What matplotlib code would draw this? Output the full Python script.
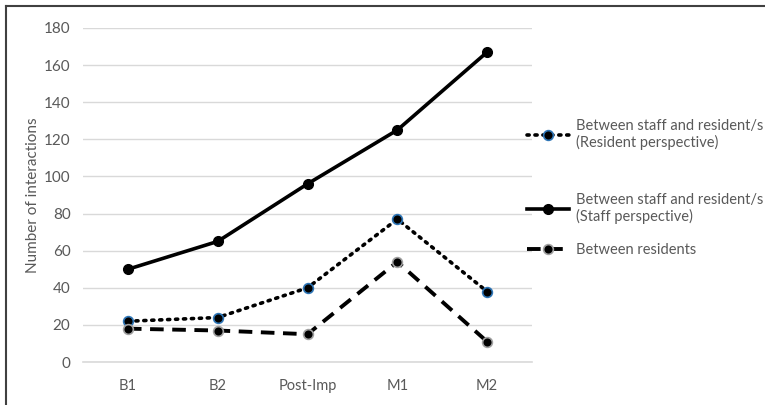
import matplotlib.pyplot as plt
from matplotlib.lines import Line2D

# Data
phases = ['B1', 'B2', 'Post-Imp', 'M1', 'M2']
resident_persp = [22, 24, 40, 77, 38]
staff_persp = [50, 65, 96, 125, 167]
between_residents = [18, 17, 15, 54, 11]

plt.rcParams['font.family'] = ['Lato', 'DejaVu Sans']
grey = '#595959'

fig = plt.figure(figsize=(7.65, 4.05), dpi=100)
ax = fig.add_axes([0.1085, 0.106, 0.587, 0.825])

x = range(len(phases))
l1, = ax.plot(x, resident_persp, linestyle=(0, (0.6, 1.6)), dash_capstyle='round', color='black', lw=2.6,
              marker='o', ms=7, mfc='black', mec='#2E75B6', mew=1.2,
              label='Between staff and resident/s\n(Resident perspective)')
l2, = ax.plot(x, staff_persp, linestyle='-', color='black', lw=2.6,
              marker='o', ms=7, mfc='black', mec='black',
              label='Between staff and resident/s\n(Staff perspective)')
l3, = ax.plot(x, between_residents, linestyle=(0, (3.5, 2.2)), color='black', lw=2.8,
              marker='o', ms=7, mfc='black', mec='#A0A0A0', mew=1.2,
              label='Between residents')

ax.set_xlim(-0.5, len(phases) - 0.5)
ax.set_ylim(0, 180)
ax.set_yticks(range(0, 181, 20))
ax.set_xticks(list(x))
ax.set_xticklabels(phases)
ax.grid(axis='y', color='#D9D9D9', lw=1)
ax.set_axisbelow(True)
for s in ['top', 'right', 'left']:
    ax.spines[s].set_visible(False)
ax.spines['bottom'].set_color('#D9D9D9')
ax.spines['bottom'].set_linewidth(1.2)
ax.tick_params(length=0, colors=grey, labelsize=10.5, pad=12)
ax.tick_params(axis='y', labelsize=11, pad=9)
ax.set_ylabel('Number of interactions', color=grey, fontsize=11, labelpad=3)

# legend entries placed one by one (Excel spaces them unevenly)
for line, ycen in [(l1, 0.668), (l2, 0.485), (l3, 0.383)]:
    fig.legend(handles=[line], loc='center left', bbox_to_anchor=(0.672, ycen), frameon=False,
               fontsize=10.5, labelcolor=grey, handlelength=2.9, handletextpad=0.45)

# outer frame (top and left edges)
fig.add_artist(Line2D([0.008, 0.008], [0, 0.986], color='#404040', lw=1.5, transform=fig.transFigure))
fig.add_artist(Line2D([0.008, 1], [0.986, 0.986], color='#404040', lw=1.5, transform=fig.transFigure))

fig.savefig('out.png', dpi=100)
